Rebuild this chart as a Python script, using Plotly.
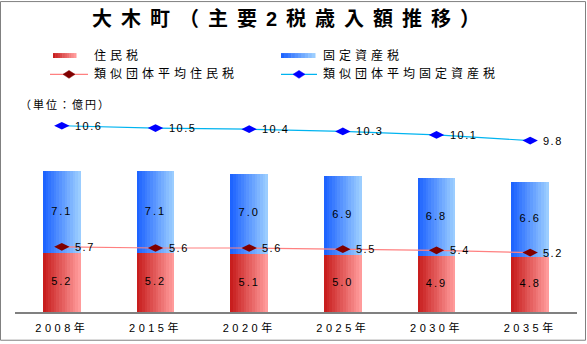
import plotly.graph_objects as go

# ---- data ----
years = ["2008年", "2015年", "2020年", "2025年", "2030年", "2035年"]
juminzei = [5.2, 5.2, 5.1, 5.0, 4.9, 4.8]
kotei = [7.1, 7.1, 7.0, 6.9, 6.8, 6.6]
ruiji_jumin = [5.7, 5.6, 5.6, 5.5, 5.4, 5.2]
ruiji_kotei = [10.6, 10.5, 10.4, 10.3, 10.1, 9.8]

title_text = "大木町（主要2税歳入額推移）"
unit_text = "（単位：億円）"
legend_names = ["住民税", "固定資産税", "類似団体平均住民税", "類似団体平均固定資産税"]

FONT = "Liberation Sans, Noto Sans CJK JP, sans-serif"

# layout geometry (pixels)
W, H = 587, 344
L, R, T, B = 15, 10, 110, 30
PW, PH = W - L - R, H - T - B


def xp(px):
    return (px - L) / PW


def yp(py):
    return (H - B - py) / PH


def sp(txt, ls):
    return f'<span style="letter-spacing:{ls}px">{txt}</span>'


def lerp(c1, c2, t):
    return "rgb(%d,%d,%d)" % tuple(round(a + (b - a) * t) for a, b in zip(c1, c2))


RED_L, RED_R = (200, 30, 30), (255, 155, 155)
BLU_L, BLU_R = (30, 100, 255), (155, 205, 255)

fig = go.Figure()

N = 14
BW = 0.40
sw = BW / N
for i in range(N):
    t = i / (N - 1)
    fig.add_trace(go.Bar(x=years, y=juminzei, width=sw * 1.15 if i < N - 1 else sw,
                         offset=-BW / 2 + i * sw, marker=dict(color=lerp(RED_L, RED_R, t), line_width=0),
                         showlegend=False, hoverinfo="skip"))
    fig.add_trace(go.Bar(x=years, y=kotei, base=juminzei, width=sw * 1.15 if i < N - 1 else sw,
                         offset=-BW / 2 + i * sw, marker=dict(color=lerp(BLU_L, BLU_R, t), line_width=0),
                         showlegend=False, hoverinfo="skip"))

# bar labels
fig.add_trace(go.Scatter(x=years, y=[v / 2 for v in juminzei], mode="text",
                         text=[sp(f"{v:.1f}", 2) for v in juminzei],
                         textfont=dict(family=FONT, size=11, color="black"), showlegend=False))
fig.add_trace(go.Scatter(x=years, y=[a + b / 2 for a, b in zip(juminzei, kotei)], mode="text",
                         text=[sp(f"{v:.1f}", 2) for v in kotei],
                         textfont=dict(family=FONT, size=11, color="black"), showlegend=False))

# stacked lines
stack_top = [a + b for a, b in zip(ruiji_jumin, ruiji_kotei)]
fig.add_trace(go.Scatter(x=years, y=ruiji_jumin, mode="lines+markers",
                         line=dict(color="#FF8080", width=1.2),
                         marker=dict(symbol="diamond-wide", size=11, color="#800000"),
                         showlegend=False))
fig.add_trace(go.Scatter(x=years, y=stack_top, mode="lines+markers",
                         line=dict(color="#00B4F0", width=1.2),
                         marker=dict(symbol="diamond-wide", size=11, color="#0000FF"),
                         showlegend=False))

shapes = []
annotations = []

for yr, yv, lab in list(zip(years, ruiji_jumin, ruiji_jumin)) + list(zip(years, stack_top, ruiji_kotei)):
    annotations.append(dict(x=yr, y=yv, xref="x", yref="y", xanchor="left", yanchor="middle",
                            xshift=11, showarrow=False, text=sp(f"{lab:.1f}", 1.5),
                            font=dict(family=FONT, size=11, color="black")))

# outer border
shapes.append(dict(type="rect", xref="paper", yref="paper", x0=xp(0.5), x1=xp(585.5),
                   y0=yp(0.5), y1=yp(342.5), line=dict(color="#808080", width=1)))

# custom legend
def swatch(x0, x1, yc, c1, c2):
    n = 10
    w = (x1 - x0) / n
    for k in range(n):
        shapes.append(dict(type="rect", xref="paper", yref="paper",
                           x0=xp(x0 + k * w), x1=xp(x0 + (k + 1) * w + 0.5),
                           y0=yp(yc + 2.5), y1=yp(yc - 2.5),
                           fillcolor=lerp(c1, c2, k / (n - 1)), line_width=0))


def line_item(x0, x1, yc, lc, mc):
    shapes.append(dict(type="line", xref="paper", yref="paper", x0=xp(x0), x1=xp(x1),
                       y0=yp(yc), y1=yp(yc), line=dict(color=lc, width=1.2)))
    xm = (x0 + x1) / 2
    path = "M {},{} L {},{} L {},{} L {},{} Z".format(
        xp(xm - 6), yp(yc), xp(xm), yp(yc - 4), xp(xm + 6), yp(yc), xp(xm), yp(yc + 4))
    shapes.append(dict(type="path", xref="paper", yref="paper", path=path,
                       fillcolor=mc, line=dict(color=mc, width=0.5)))


swatch(53, 76, 55, RED_L, RED_R)
swatch(281, 315, 55, BLU_L, BLU_R)
line_item(50, 88, 74, "#FF8080", "#800000")
line_item(281, 317, 74, "#00B4F0", "#0000FF")

for (txt, x, y) in [(legend_names[0], 92, 55), (legend_names[1], 321, 55),
                    (legend_names[2], 92, 74), (legend_names[3], 321, 74)]:
    annotations.append(dict(xref="paper", yref="paper", x=xp(x), y=yp(y), xanchor="left",
                            yanchor="middle", showarrow=False, text=sp(txt, 4),
                            font=dict(family=FONT, size=12, color="black")))

annotations.append(dict(xref="paper", yref="paper", x=xp(18), y=yp(104), xanchor="left",
                        yanchor="middle", showarrow=False, text=sp(unit_text, 2),
                        font=dict(family=FONT, size=11, color="black")))

annotations.append(dict(xref="paper", yref="paper", x=xp(290), y=yp(18), xanchor="center",
                        yanchor="middle", showarrow=False,
                        text="<b>" + sp(title_text, 9) + "</b>",
                        font=dict(family=FONT, size=20, color="black")))

fig.update_layout(
    width=W, height=H, margin=dict(l=L, r=R, t=T, b=B),
    paper_bgcolor="white", plot_bgcolor="white",
    barmode="overlay", bargap=0,
    shapes=shapes, annotations=annotations, showlegend=False,
    xaxis=dict(type="category", range=[-0.5, 5.5], showline=True, linecolor="#808080",
               linewidth=1.5, ticks="", showgrid=False, zeroline=False,
               tickvals=years, ticktext=[sp(y, 3.5) for y in years],
               tickfont=dict(family=FONT, size=11, color="black"), ticklabelstandoff=5),
    yaxis=dict(range=[0, PH / 11.54], visible=False, showgrid=False, zeroline=False),
)

fig.write_html("out.html")
